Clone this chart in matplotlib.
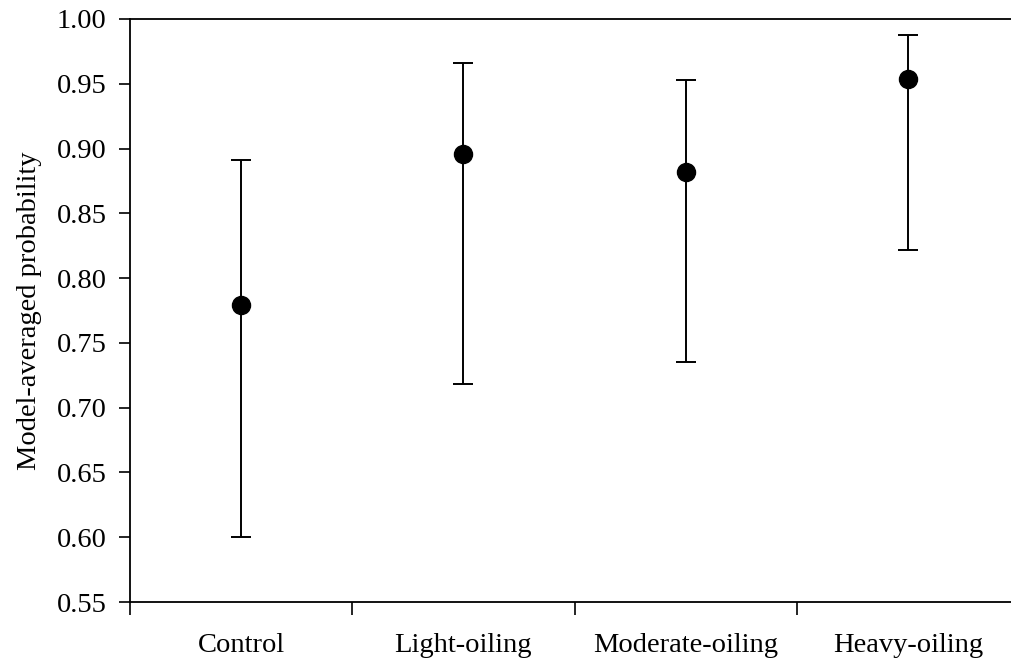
import matplotlib
matplotlib.use("Agg")
import matplotlib.pyplot as plt
import numpy as np

categories = ["Control", "Light-oiling", "Moderate-oiling", "Heavy-oiling"]
prob = [0.779, 0.896, 0.882, 0.954]
lower = [0.600, 0.718, 0.735, 0.822]
upper = [0.891, 0.966, 0.953, 0.988]
yticks = [0.55, 0.60, 0.65, 0.70, 0.75, 0.80, 0.85, 0.90, 0.95, 1.00]

plt.rcParams['font.family'] = ['Liberation Serif', 'DejaVu Serif']

fig = plt.figure(figsize=(10.12, 6.66), dpi=100)
left = 130 / 1012
right = 1019 / 1012
bottom = 1 - 602 / 666
top = 1 - 19 / 666
ax = fig.add_axes([left, bottom, right - left, top - bottom])

x = np.arange(len(categories)) + 0.5
prob_a = np.array(prob)
yerr = [prob_a - np.array(lower), np.array(upper) - prob_a]
ax.errorbar(x, prob_a, yerr=yerr, fmt='o', color='black', markersize=13,
            elinewidth=1.4, capsize=7, capthick=1.4, zorder=3)

ax.set_xlim(0, 4)
ax.set_ylim(0.55, 1.00)
ax.set_yticks(yticks)
ax.set_yticklabels([f"{v:.2f}" for v in yticks])
ax.set_xticks([0, 1, 2, 3, 4])
ax.set_xticklabels([])
ax.set_xticks(x, minor=True)
ax.set_xticklabels(categories, minor=True)
ax.tick_params(axis='x', which='minor', length=0, pad=22, labelsize=20.5)
ax.tick_params(axis='x', which='major', length=9, width=1.2, direction='out')
ax.tick_params(axis='y', which='major', length=8, width=1.2, direction='out',
               pad=9, labelsize=20.5)
for s in ax.spines.values():
    s.set_linewidth(1.3)
ax.set_ylabel("Model-averaged probability", fontsize=20.5, labelpad=10)

fig.savefig("out.png", dpi=100)
